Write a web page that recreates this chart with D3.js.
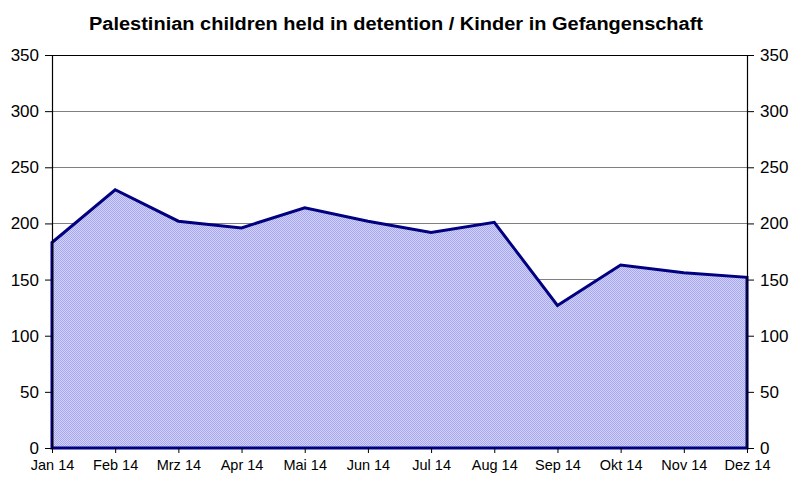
<!DOCTYPE html>
<html><head><meta charset="utf-8">
<script src="https://cdn.jsdelivr.net/npm/d3@7"></script>
<style>body{margin:0;background:#fff}svg{display:block}</style>
</head><body>
<script>
const months = ["Jan 14","Feb 14","Mrz 14","Apr 14","Mai 14","Jun 14","Jul 14","Aug 14","Sep 14","Okt 14","Nov 14","Dez 14"];
const values = [183,230,202,196,214,202,192,201,127,163,156,152];
const yTicks = [0,50,100,150,200,250,300,350];
const title = "Palestinian children held in detention / Kinder in Gefangenschaft";

const W=800,H=494;
const m={left:52,right:53,top:55,bottom:46};
const svg=d3.select("body").append("svg").attr("width",W).attr("height",H);
const defs=svg.append("defs");
const pat=defs.append("pattern").attr("id","dots").attr("width",2).attr("height",2).attr("patternUnits","userSpaceOnUse");
pat.append("rect").attr("width",2).attr("height",2).attr("fill","#d4d4fb");
pat.append("rect").attr("width",1).attr("height",1).attr("fill","#a6a6ee");
pat.append("rect").attr("x",1).attr("y",1).attr("width",1).attr("height",1).attr("fill","#a6a6ee");

const x=d3.scalePoint().domain(months).range([m.left,W-m.right]);
const y=d3.scaleLinear().domain([0,350]).range([H-m.bottom,m.top]);

// gridlines
svg.append("g").selectAll("line").data(yTicks.filter(d=>d>0)).join("line")
  .attr("x1",m.left).attr("x2",W-m.right).attr("y1",d=>y(d)).attr("y2",d=>y(d))
  .attr("stroke",d=>d===350?"#000":"#808080").attr("stroke-width",1).attr("shape-rendering","crispEdges");

// area
const area=d3.area().x((d,i)=>x(months[i])).y0(y(0)).y1(d=>y(d));
svg.append("path").datum(values).attr("d",area).attr("fill","url(#dots)");
const line=d3.line().x((d,i)=>x(months[i])).y(d=>y(d));
svg.append("path").datum(values)
  .attr("d",d=>"M"+x(months[0])+","+y(0)+line(d).replace(/^M/,"L")+"L"+x(months[months.length-1])+","+y(0)+"Z")
  .attr("fill","none").attr("stroke","#000080").attr("stroke-width",3).attr("stroke-linejoin","miter");

// axes
const font="'Liberation Sans', Arial, sans-serif";
const yl=svg.append("g").attr("transform",`translate(${m.left},0)`).call(d3.axisLeft(y).tickValues(yTicks).tickSize(7).tickPadding(6));
const yr=svg.append("g").attr("transform",`translate(${W-m.right},0)`).call(d3.axisRight(y).tickValues(yTicks).tickSize(7).tickPadding(6));
const xa=svg.append("g").attr("transform",`translate(0,${y(0)})`).call(d3.axisBottom(x).tickSize(5).tickPadding(7));
[yl,yr].forEach(g=>{g.select(".domain").attr("stroke","#000").attr("stroke-width",1.2);
  g.selectAll("text").attr("font-family",font).attr("font-size",17).attr("fill","#000");
  g.selectAll(".tick line").attr("stroke","#000");});
xa.select(".domain").remove();
xa.selectAll(".tick line").attr("stroke","#000");
xa.selectAll("text").attr("font-family",font).attr("font-size",14.5).attr("fill","#000");

svg.append("text").attr("x",396).attr("y",30).attr("text-anchor","middle")
  .attr("font-family",font).attr("font-weight","bold").attr("font-size",18)
  .attr("textLength",614).attr("lengthAdjust","spacingAndGlyphs").text(title);
</script>
</body></html>
